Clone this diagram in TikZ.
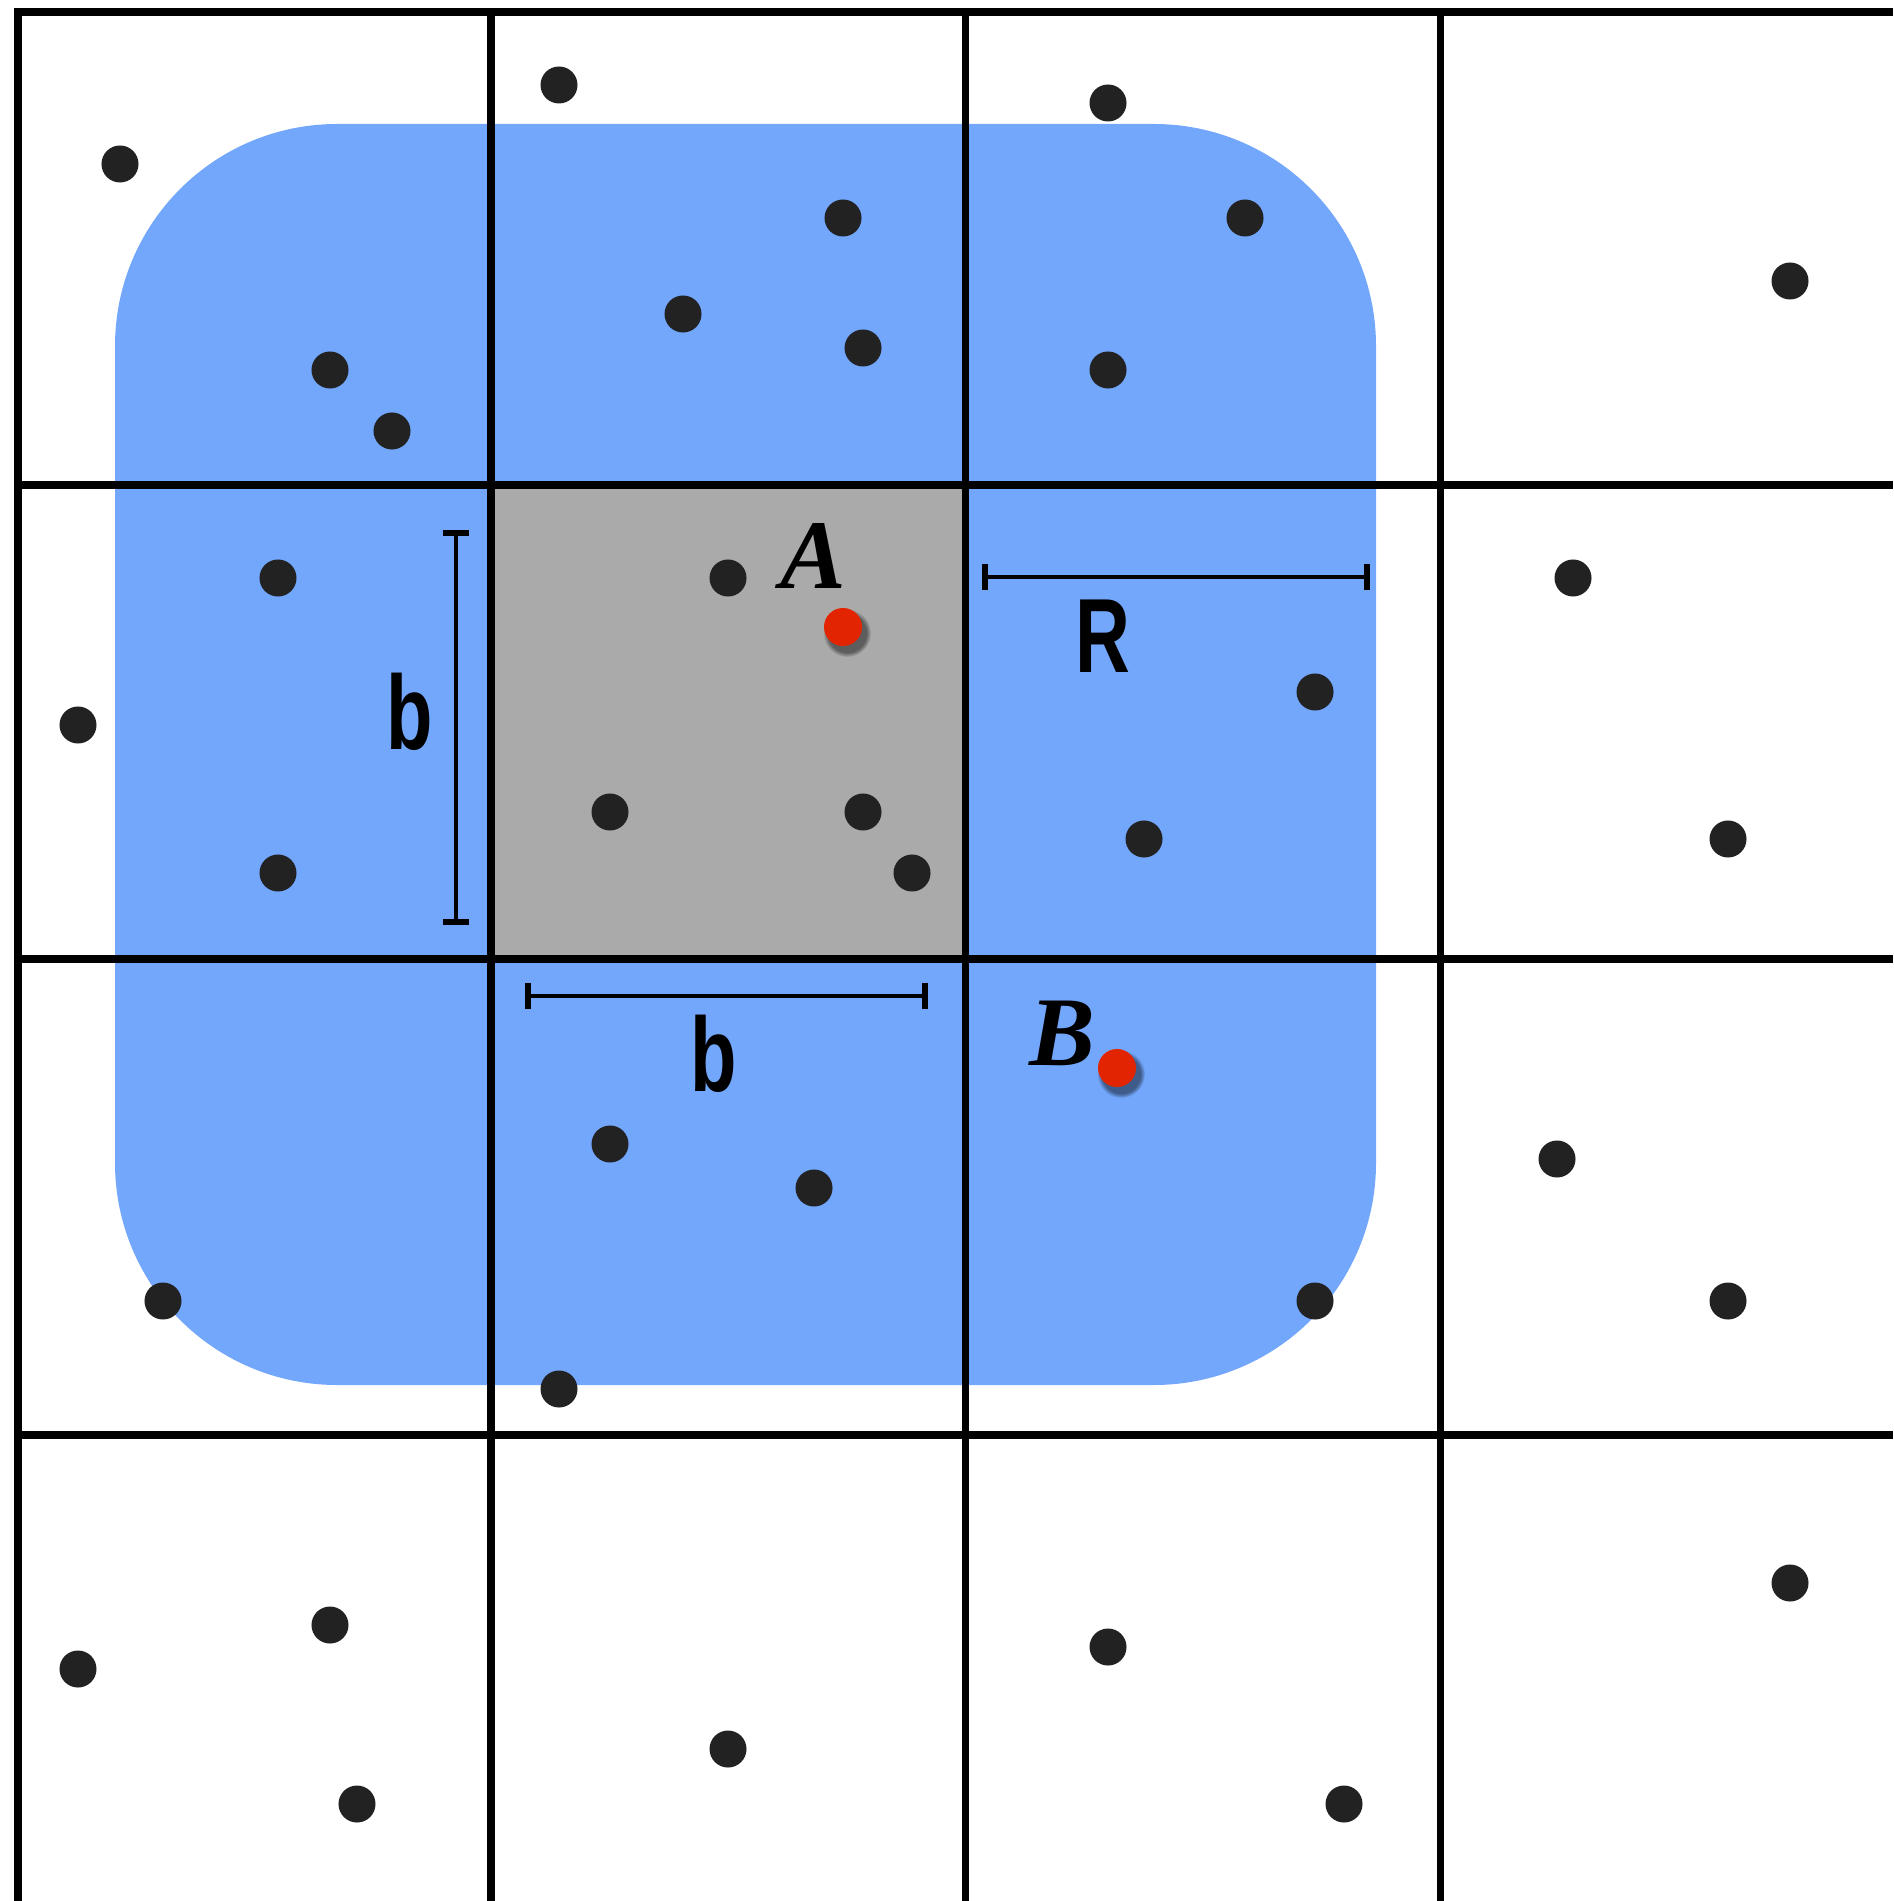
\documentclass[tikz,border=0pt]{standalone}
\usepackage{fontspec}
\setmainfont{Liberation Serif}
\newfontfamily\labelsans{Liberation Sans}
\usetikzlibrary{arrows.meta,fadings}

\definecolor{regionblue}{RGB}{115,167,252}
\definecolor{cellgray}{RGB}{170,170,170}
\definecolor{dotblack}{RGB}{34,34,34}
\definecolor{pointred}{RGB}{226,36,0}

\newcommand{\sizelabel}[1]{{\labelsans\bfseries\fontsize{30}{32}\selectfont\scalebox{0.72}[1]{#1}}}

\begin{document}
\begin{tikzpicture}[
    x=0.01cm, y=-0.01cm,
    dot/.style={circle, fill=dotblack, inner sep=0pt, minimum size=0.37cm},
    redpt/.style={circle, fill=pointred, inner sep=0pt, minimum size=0.38cm},
    gridline/.style={line width=2pt},
    dimline/.style={line width=1.4pt, {Bar[width=7.4pt,line width=1.8pt]}-{Bar[width=7.4pt,line width=1.8pt]}},
    pointlabel/.style={inner sep=0pt, font=\fontsize{28}{30}\selectfont\bfseries\itshape},
    shadowblob/.style={fill=black, fill opacity=0.45, path fading=circle with fuzzy edge 20 percent}
]
\useasboundingbox (0,0) rectangle (1893,1901);

% search region and home cell
\fill[regionblue, rounded corners=2.22cm] (115,124) rectangle (1376,1385);
\fill[cellgray] (491,485) rectangle (965,959);

% cell grid
\draw[gridline] (18,1901) -- (18,12) -- (1893,12);
\draw[gridline] (491,12) -- (491,1901);
\draw[gridline] (965,12) -- (965,1901);
\draw[gridline] (1440,12) -- (1440,1901);
\draw[gridline] (18,485) -- (1893,485);
\draw[gridline] (18,959) -- (1893,959);
\draw[gridline] (18,1435) -- (1893,1435);

% particles
\node[dot] (p1) at (120,164) {};
\node[dot] (p2) at (559,85) {};
\node[dot] (p3) at (1108,103) {};
\node[dot] (p4) at (843,218) {};
\node[dot] (p5) at (1245,218) {};
\node[dot] (p6) at (683,314) {};
\node[dot] (p7) at (863,348) {};
\node[dot] (p8) at (1108,370) {};
\node[dot] (p9) at (330,370) {};
\node[dot] (p10) at (392,431) {};
\node[dot] (p11) at (1790,281) {};
\node[dot] (p12) at (278,578) {};
\node[dot] (p13) at (728,578) {};
\node[dot] (p14) at (78,725) {};
\node[dot] (p15) at (1573,578) {};
\node[dot] (p16) at (1315,692) {};
\node[dot] (p17) at (1144,839) {};
\node[dot] (p18) at (1728,839) {};
\node[dot] (p19) at (610,812) {};
\node[dot] (p20) at (863,812) {};
\node[dot] (p21) at (912,873) {};
\node[dot] (p22) at (278,873) {};
\node[dot] (p23) at (610,1144) {};
\node[dot] (p24) at (814,1188) {};
\node[dot] (p25) at (1557,1159) {};
\node[dot] (p26) at (163,1301) {};
\node[dot] (p27) at (1315,1301) {};
\node[dot] (p28) at (1728,1301) {};
\node[dot] (p29) at (559,1389) {};
\node[dot] (p30) at (330,1625) {};
\node[dot] (p31) at (78,1669) {};
\node[dot] (p32) at (357,1804) {};
\node[dot] (p33) at (728,1749) {};
\node[dot] (p34) at (1108,1647) {};
\node[dot] (p35) at (1344,1804) {};
\node[dot] (p36) at (1790,1583) {};

% the two marked particles
\coordinate (cA) at (843,627);
\coordinate (cB) at (1117,1068);
\fill[shadowblob] ([shift={(4,6)}]cA) circle (24);
\fill[shadowblob] ([shift={(4,6)}]cB) circle (24);
\node[redpt] (ptA) at (cA) {};
\node[redpt] (ptB) at (cB) {};
\node[pointlabel] (labA) at (813,556) {A};
\node[pointlabel] (labB) at (1062,1033) {B};

% sizes
\coordinate (vtop) at (456,530);
\coordinate (vbot) at (456,925);
\coordinate (hleft) at (525,996);
\coordinate (hright) at (928,996);
\coordinate (rleft) at (982,577);
\coordinate (rright) at (1370,577);
\draw[dimline] (vtop) -- (vbot);
\draw[dimline] (hleft) -- (hright);
\draw[dimline] (rleft) -- (rright);
\node (labbv) at (410,712) {\sizelabel{b}};
\node (labbh) at (714,1054) {\sizelabel{b}};
\node (labR) at (1103,636) {\sizelabel{R}};
\end{tikzpicture}
\end{document}
